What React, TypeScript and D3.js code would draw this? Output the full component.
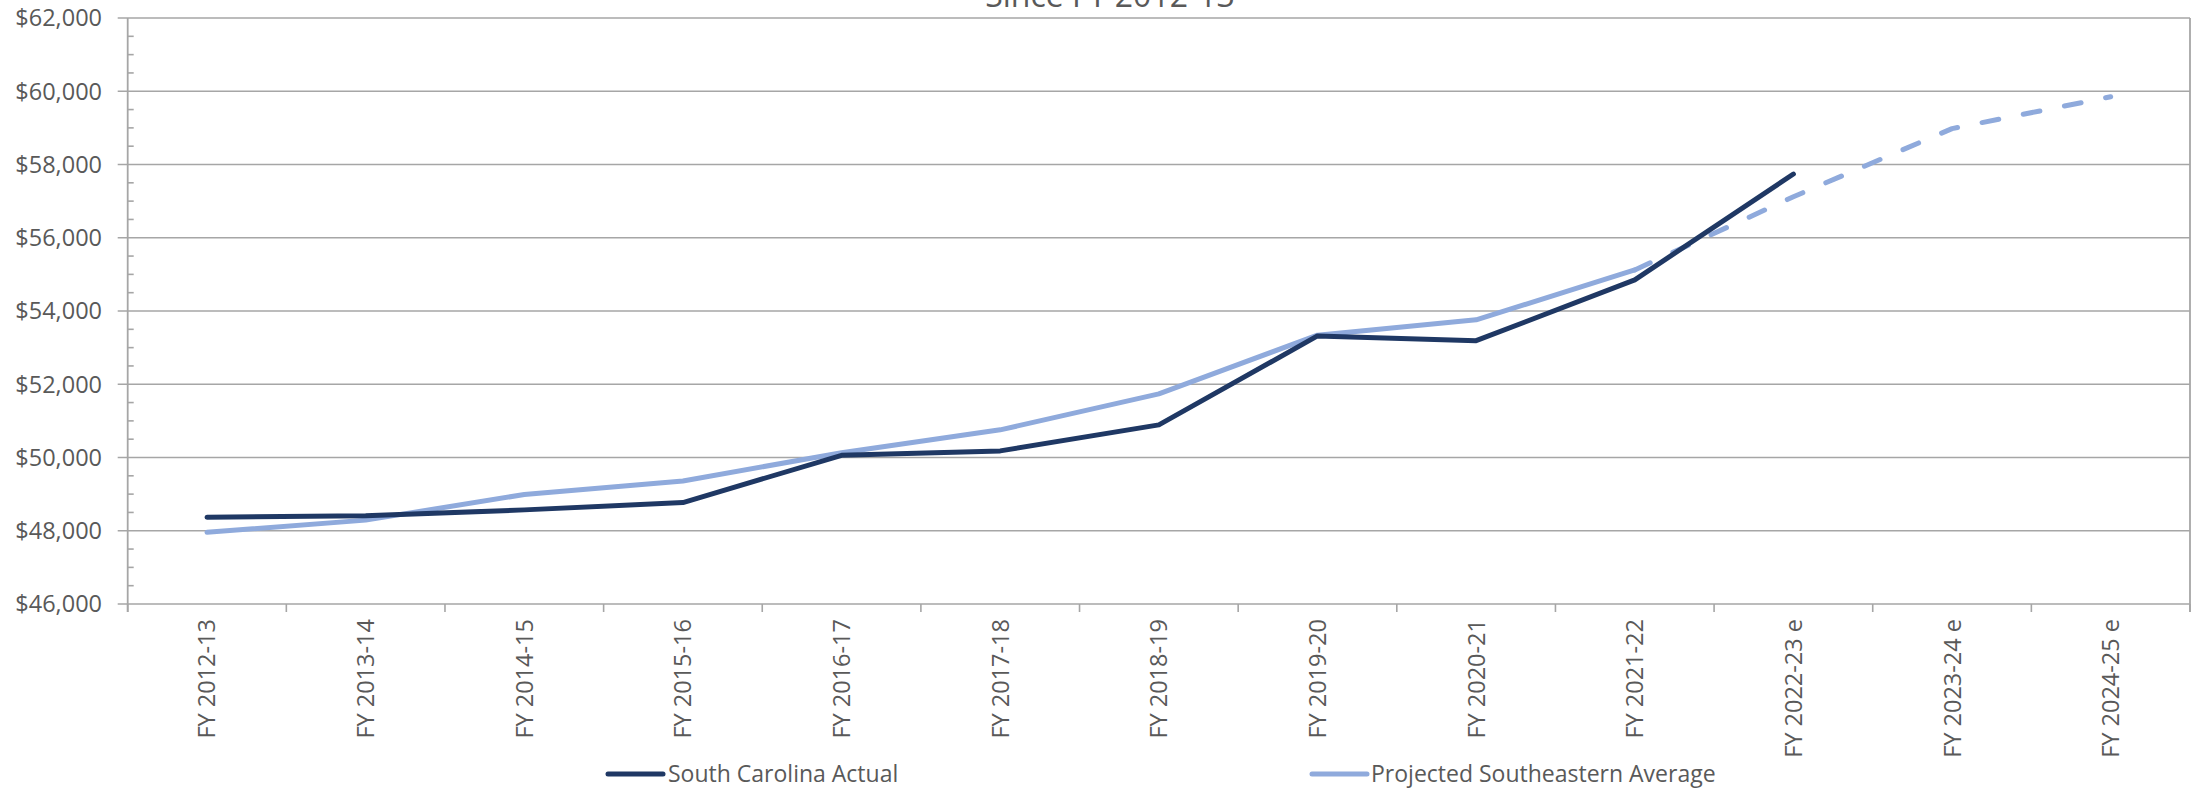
import React from "react";
import * as d3 from "d3";

const categories = [
  "FY 2012-13",
  "FY 2013-14",
  "FY 2014-15",
  "FY 2015-16",
  "FY 2016-17",
  "FY 2017-18",
  "FY 2018-19",
  "FY 2019-20",
  "FY 2020-21",
  "FY 2021-22",
  "FY 2022-23 e",
  "FY 2023-24 e",
  "FY 2024-25 e",
];

// South Carolina actual (ends at FY 2022-23 e)
const scActual = [48370, 48410, 48570, 48770, 50060, 50180, 50890, 53320, 53190, 54850, 57740];

// Projected southeastern average
const seAverage = [47960, 48290, 48990, 49360, 50130, 50755, 51736, 53340, 53760, 55120, 57120, 58980, 59850];

// index where the projection turns dashed
const projectedFrom = 9;

const seriesNames = ["South Carolina Actual", "Projected Southeastern Average"];
const colors = ["#1f3864", "#8faadc"];

const yDomain = [46000, 62000];

const W = 2200;
const H = 789;
const left = 127.7;
const right = 2190;
const top = 18;
const bottom = 604;

const font = "'Open Sans', sans-serif";
const textColor = "#595959";
const gridColor = "#a6a6a6";

export default function App() {
  const x = d3.scaleBand<string>().domain(categories).range([left, right]).padding(0);
  const y = d3.scaleLinear().domain(yDomain).range([bottom, top]);
  const cx = (i: number) => (x(categories[i]) ?? 0) + x.bandwidth() / 2;

  const line = d3
    .line<[number, number]>()
    .x((d) => cx(d[0]))
    .y((d) => y(d[1]));

  const scPts = scActual.map((v, i) => [i, v] as [number, number]);
  const sePts = seAverage.map((v, i) => [i, v] as [number, number]);
  const seSolid = sePts.slice(0, projectedFrom + 1);
  const seDashed = sePts.slice(projectedFrom);

  const majors = d3.range(yDomain[0], yDomain[1] + 1, 2000);
  const minors = d3.range(yDomain[0], yDomain[1] + 1, 500).filter((v) => v % 2000 !== 0);
  const fmt = d3.format("$,.0f");
  const boundaries = categories.map((c) => x(c) ?? 0).concat([right]);

  return (
    <>
      <style>{`body{margin:0;background:#fff}`}</style>
      <svg width={W} height={H} style={{ display: "block" }}>
        <rect width={W} height={H} fill="#fff" />

        {/* title, clipped at the top like the source */}
        <text x={1110} y={7} textAnchor="middle" fontFamily={font} fontSize={32} fill={textColor}>
          Since FY 2012-13
        </text>

        {/* gridlines + y labels */}
        {majors.map((v) => (
          <g key={v}>
            <line x1={left - 10} x2={right} y1={y(v)} y2={y(v)} stroke={gridColor} strokeWidth={1.6} />
            <text
              x={102}
              y={y(v)}
              dy="0.36em"
              textAnchor="end"
              fontFamily={font}
              fontSize={23.5}
              fill={textColor}
            >
              {fmt(v)}
            </text>
          </g>
        ))}
        {minors.map((v) => (
          <line key={v} x1={left} x2={left + 6} y1={y(v)} y2={y(v)} stroke={gridColor} strokeWidth={1.6} />
        ))}

        {/* axes */}
        <line x1={left} x2={left} y1={top} y2={bottom + 8} stroke={gridColor} strokeWidth={1.8} />
        <line x1={right} x2={right} y1={top} y2={bottom + 8} stroke={gridColor} strokeWidth={1.8} />
        {boundaries.map((b, i) => (
          <line key={i} x1={b} x2={b} y1={bottom} y2={bottom + 8} stroke={gridColor} strokeWidth={1.6} />
        ))}

        {/* x labels */}
        {categories.map((c, i) => (
          <text
            key={c}
            transform={`translate(${cx(i)},619) rotate(-90)`}
            dy="0.36em"
            textAnchor="end"
            fontFamily={font}
            fontSize={23.5}
            fill={textColor}
          >
            {c}
          </text>
        ))}

        {/* series */}
        <path d={line(seSolid) ?? ""} fill="none" stroke={colors[1]} strokeWidth={5} strokeLinejoin="round" strokeLinecap="round" />
        <path
          d={line(seDashed) ?? ""}
          fill="none"
          stroke={colors[1]}
          strokeWidth={5}
          strokeLinejoin="round"
          strokeLinecap="round"
          strokeDasharray="17 25"
        />
        <path d={line(scPts) ?? ""} fill="none" stroke={colors[0]} strokeWidth={5} strokeLinejoin="round" strokeLinecap="round" />

        {/* legend */}
        {[
          { x0: 608, tx: 668 },
          { x0: 1312, tx: 1371 },
        ].map((l, i) => (
          <g key={i}>
            <line x1={l.x0} x2={l.x0 + 55} y1={774} y2={774} stroke={colors[i]} strokeWidth={5} strokeLinecap="round" />
            <text x={l.tx} y={782} fontFamily={font} fontSize={23} fill={textColor}>
              {seriesNames[i]}
            </text>
          </g>
        ))}
      </svg>
    </>
  );
}
